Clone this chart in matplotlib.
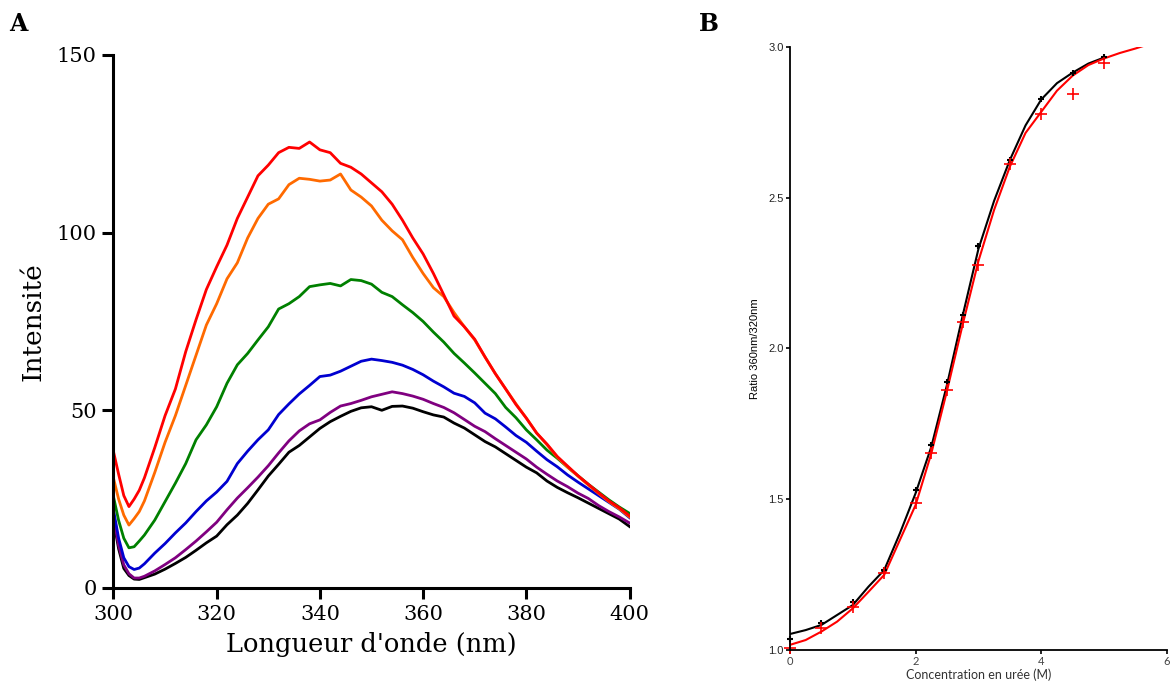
import matplotlib
matplotlib.use("Agg")
import matplotlib.pyplot as plt

# Panel A: emission spectra (wavelength in nm, intensity)
wavelength = [300, 301, 302, 303, 304, 305, 306] + list(range(308, 401, 2))

red = [38.4, 32, 26, 22.9, 25, 27.5, 31, 39.5, 48.5, 56, 66.5, 75.5, 84, 90.4,
       96.5, 104, 110, 116, 119, 122.5, 124, 123.7, 125.5, 123.3, 122.5, 119.5,
       118.4, 116.5, 114, 111.5, 108, 103.5, 98.5, 94, 88.5, 82.5, 76.5, 73.5,
       70, 65, 60.3, 56, 51.6, 47.8, 43.6, 40.5, 37, 34.3, 31.6, 29.2, 26.8,
       24.5, 22.6, 20.3]
orange = [30.9, 25, 20.5, 17.7, 19.5, 21.5, 24.5, 32.5, 41, 48.5, 57, 65.5, 74,
          80, 87, 91.5, 98.5, 104, 108, 109.5, 113.5, 115.3, 115, 114.5, 114.8,
          116.5, 112, 110, 107.5, 103.5, 100.5, 98, 93, 88.5, 84.5, 82, 77.5,
          73.5, 69.8, 65, 60.3, 56, 51.8, 47.8, 43.6, 40.3, 36.8, 34, 31.5, 29,
          26.6, 24.3, 22.3, 20]
green = [25.7, 19, 14, 11.3, 11.6, 13.2, 14.9, 19.1, 24.3, 29.5, 35, 41.7,
         45.9, 51, 57.6, 62.8, 66, 69.8, 73.5, 78.5, 80, 82, 84.8, 85.3, 85.7,
         85, 86.8, 86.5, 85.5, 83.2, 82, 79.7, 77.5, 75, 72, 69.2, 66, 63.3,
         60.5, 57.6, 54.7, 50.8, 47.9, 44.5, 41.7, 38.8, 36.5, 34, 31.6, 29.2,
         27, 24.8, 22.8, 21]
blue = [22, 14, 8.5, 6, 5.2, 5.6, 6.8, 9.8, 12.5, 15.5, 18.3, 21.5, 24.5, 27,
        30, 35, 38.5, 41.7, 44.5, 48.8, 51.8, 54.6, 57, 59.5, 59.9, 61, 62.4,
        63.8, 64.4, 64, 63.5, 62.7, 61.5, 60, 58.2, 56.6, 54.8, 53.9, 52.1,
        49.2, 47.6, 45.3, 42.9, 41, 38.5, 36.1, 34.1, 31.8, 29.8, 27.9, 26,
        24.1, 22.2, 19.8]
purple = [20, 12, 6.5, 4, 2.8, 2.8, 3.3, 4.8, 6.6, 8.5, 10.8, 13.2, 15.8, 18.5,
          22, 25.3, 28.2, 31.2, 34.4, 38, 41.4, 44.2, 46.2, 47.3, 49.4, 51.2,
          51.9, 52.8, 53.8, 54.5, 55.2, 54.7, 54, 53.1, 51.9, 50.8, 49.3, 47.4,
          45.5, 44, 42, 40.1, 38.2, 36.3, 34, 32, 30.1, 28.5, 26.7, 25.2, 23.2,
          21.5, 20, 18.3]
black = [19.1, 11, 5.5, 3.5, 2.5, 2.4, 2.9, 3.9, 5.3, 6.9, 8.6, 10.6, 12.7,
         14.6, 17.8, 20.5, 23.8, 27.6, 31.5, 34.8, 38.2, 40.1, 42.5, 44.9, 46.8,
         48.3, 49.7, 50.7, 51, 50, 51.1, 51.2, 50.6, 49.6, 48.7, 48.1, 46.4, 45,
         43.1, 41.2, 39.7, 37.8, 35.9, 34, 32.4, 30.1, 28.3, 26.8, 25.4, 23.9,
         22.4, 20.9, 19.4, 17.3]

spectra = [(black, "black"), (purple, "#800080"), (blue, "#0000d0"),
           (green, "#008000"), (orange, "#ff6a00"), (red, "#ff0000")]

# Panel B: ratio 360/320 vs urea concentration
urea = [0, 0.5, 1, 1.5, 2, 2.25, 2.5, 2.75, 3, 3.5, 4, 4.5, 5]
ratio_black = [1.036, 1.089, 1.16, 1.265, 1.53, 1.68, 1.89, 2.11, 2.34, 2.625,
               2.826, 2.913, 2.966]
ratio_red = [1.005, 1.072, 1.144, 1.254, 1.487, 1.655, 1.862, 2.088, 2.277,
             2.612, 2.778, 2.843, 2.948]

fit_x_black = [0, 0.25, 0.5, 0.75, 1, 1.25, 1.5, 1.75, 2, 2.25, 2.5, 2.75, 3,
               3.25, 3.5, 3.75, 4, 4.25, 4.5, 4.75, 5]
fit_black = [1.053, 1.066, 1.083, 1.116, 1.149, 1.21, 1.265, 1.387, 1.52, 1.674,
             1.88, 2.11, 2.33, 2.49, 2.625, 2.74, 2.826, 2.88, 2.915, 2.945, 2.965]
fit_x_red = [0, 0.25, 0.5, 0.75, 1, 1.25, 1.5, 1.75, 2, 2.25, 2.5, 2.75, 3,
             3.25, 3.5, 3.75, 4, 4.25, 4.5, 4.75, 5, 5.25, 5.5, 5.65]
fit_red = [1.017, 1.033, 1.061, 1.094, 1.138, 1.193, 1.249, 1.365, 1.481, 1.652,
           1.86, 2.08, 2.29, 2.46, 2.603, 2.715, 2.785, 2.855, 2.905, 2.94,
           2.962, 2.98, 2.995, 3.005]

fig = plt.figure(figsize=(11.71, 6.86), dpi=100)
serif = "DejaVu Serif"

# ---- Panel A ----
axA = fig.add_axes([0.0969, 0.1429, 0.4407, 0.7770])
for vals, col in spectra:
    axA.plot(wavelength, vals, color=col, lw=2.0)
axA.set_xlim(300, 400)
axA.set_ylim(0, 150)
axA.set_xticks(range(300, 401, 20))
axA.set_yticks([0, 50, 100, 150])
for s in ["top", "right"]:
    axA.spines[s].set_visible(False)
for s in ["left", "bottom"]:
    axA.spines[s].set_linewidth(2.2)
axA.tick_params(direction="out", length=8, width=2.2, labelsize=15, pad=4)
for lab in axA.get_xticklabels() + axA.get_yticklabels():
    lab.set_family(serif)
axA.set_xlabel("Longueur d'onde (nm)", fontsize=18.5, family=serif, labelpad=6)
axA.set_ylabel("Intensité", fontsize=19, family=serif, labelpad=8)

# ---- Panel B ----
axB = fig.add_axes([0.6746, 0.0525, 0.3219, 0.8790])
axB.plot(fit_x_black, fit_black, color="black", lw=1.5)
axB.plot(fit_x_red, fit_red, color="red", lw=1.5)
axB.plot(urea, ratio_black, ls="none", marker="+", color="black", ms=5, mew=1.5,
         clip_on=False)
axB.plot(urea, ratio_red, ls="none", marker="+", color="red", ms=8, mew=1.2,
         clip_on=False)
axB.set_xlim(0, 6)
axB.set_ylim(1.0, 3.0)
axB.set_xticks([0, 2, 4, 6])
axB.set_yticks([1.0, 1.5, 2.0, 2.5, 3.0])
axB.set_yticklabels(["1.0", "1.5", "2.0", "2.5", "3.0"])
for s in ["top", "right"]:
    axB.spines[s].set_visible(False)
for s in ["left", "bottom"]:
    axB.spines[s].set_linewidth(1.3)
axB.tick_params(direction="out", length=3, width=1.2, labelsize=8, pad=1.5)
for lab in axB.get_yticklabels():
    lab.set_family("Liberation Sans")
    lab.set_color("#222222")
for lab in axB.get_xticklabels():
    lab.set_family("Lato")
    lab.set_color("#444444")
axB.set_xlabel("Concentration en urée (M)", fontsize=9, family="Lato",
               color="#333333", labelpad=1)
axB.set_ylabel("Ratio 360nm/320nm", fontsize=8, family="Liberation Sans",
               labelpad=6)

# panel letters
fig.text(0.008, 0.955, "A", fontsize=17, fontweight="bold", family=serif)
fig.text(0.597, 0.955, "B", fontsize=17, fontweight="bold", family=serif)

fig.savefig("out.png", dpi=100)
